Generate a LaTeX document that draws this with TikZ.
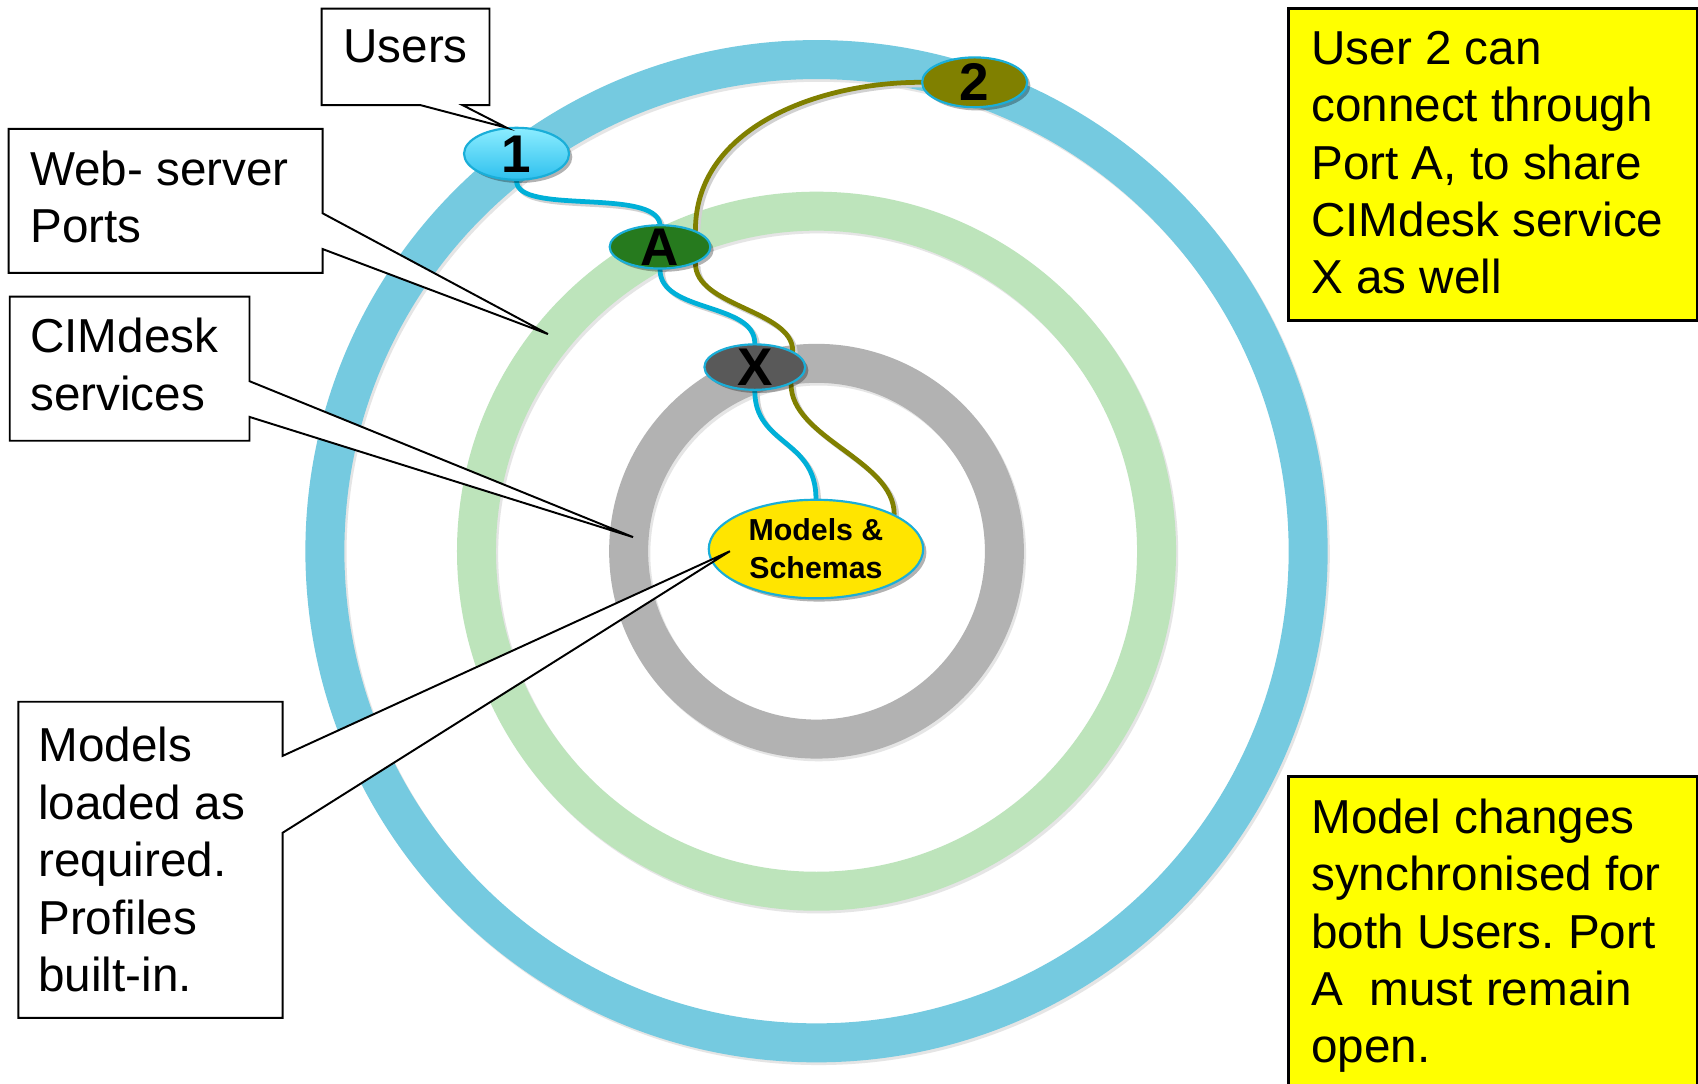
\documentclass[tikz,border=0pt]{standalone}
\usepackage{fontspec}
\setmainfont{Liberation Sans}
\usetikzlibrary{shapes.geometric,shadows,calc}
\pgfdeclarelayer{rings}
\pgfdeclarelayer{links}
\pgfsetlayers{rings,links,main}
\definecolor{ringblue}{HTML}{75CAE0}
\definecolor{ringgreen}{HTML}{BDE4BB}
\definecolor{ringgray}{HTML}{B2B2B2}
\definecolor{linkblue}{HTML}{00B0D8}
\definecolor{linkolive}{HTML}{808000}
\definecolor{portgreen}{HTML}{267A1E}
\definecolor{svcgray}{HTML}{595959}
\definecolor{modelyellow}{HTML}{FFE500}
\definecolor{noteyellow}{HTML}{FFFF00}
\definecolor{userlight}{HTML}{8CEDFF}
\definecolor{userdark}{HTML}{2EC0EE}
\definecolor{nodeborder}{HTML}{1AAED8}
\frenchspacing
\begin{document}
\begin{tikzpicture}[x=0.5pt,y=-0.5pt,
  ring/.style={line width=18pt},
  ringshadow/.style={line width=18pt, draw=black!10},
  hub/.style={ellipse, draw=nodeborder, line width=1pt, inner sep=0pt,
    drop shadow={shadow xshift=1.5pt, shadow yshift=-1.5pt, opacity=0.3, fill=black}},
  hubtext/.style={inner sep=0pt, font=\fontsize{24.5}{28}\selectfont\bfseries},
  link/.style={line width=2.2pt, line cap=round},
  linkshadow/.style={line width=2.2pt, draw=black!18, transform canvas={shift={(1.2pt,-1.2pt)}}},
  callout/.style={draw=black, fill=white, line width=0.9pt, line join=miter},
  note/.style={draw=black, fill=noteyellow, line width=1.25pt},
  calltext/.style={anchor=north west, inner sep=0pt, align=left, font=\fontsize{22}{26.5}\selectfont},
]
\useasboundingbox (0,0) rectangle (1568,1001);

\begin{pgfonlayer}{rings}
  \fill[white] (0,0) rectangle (1568,1001);
  \draw[ringshadow] (756,511.5) circle [radius=227pt];
  \draw[ring, ringblue] (754,509) circle [radius=227pt];
  \draw[ringshadow] (756,511.5) circle [radius=157pt];
  \draw[ring, ringgreen] (754,509) circle [radius=157pt];
  \draw[ringshadow] (756,511.5) circle [radius=86.75pt];
  \draw[ring, ringgray] (754,509) circle [radius=86.75pt];
\end{pgfonlayer}

% hub nodes
\node[hub, minimum width=48.5pt, minimum height=24pt, top color=userlight, bottom color=userdark] (u1) at (477,142) {};
\node[hubtext] (u1t) at (u1.center) {1};
\node[hub, fill=portgreen, minimum width=46.5pt, minimum height=20pt] (pa) at (609.5,228) {};
\node[hubtext] (pat) at (pa.center) {A};
\node[hub, fill=svcgray, minimum width=46.5pt, minimum height=21pt] (sx) at (697,339) {};
\node[hubtext] (sxt) at (sx.center) {X};
\node[hub, fill=linkolive, minimum width=48.5pt, minimum height=23pt] (u2) at (900,76) {};
\node[hubtext] (u2t) at (u2.center) {2};
\node[hub, fill=modelyellow, minimum width=99pt, minimum height=45.5pt, align=center,
  font=\fontsize{14}{17.5}\selectfont\bfseries] (ms) at (753.5,507) {Models \&\\Schemas};

% connectors
\begin{pgfonlayer}{links}
  \draw[linkshadow] (u1.south) .. controls +(0,32) and +(-5,-34) .. (pa.north);
  \draw[link, linkblue] (u1.south) .. controls +(0,32) and +(-5,-34) .. (pa.north);
  \draw[linkshadow] (pa.south) .. controls +(0,40) and +(0,-38) .. (sx.north);
  \draw[link, linkblue] (pa.south) .. controls +(0,40) and +(0,-38) .. (sx.north);
  \draw[linkshadow] (sx.south) .. controls +(0,50) and +(0,-55) .. (ms.north);
  \draw[link, linkblue] (sx.south) .. controls +(0,50) and +(0,-55) .. (ms.north);
  \draw[linkshadow] (u2.west) .. controls +(-95,0) and +(0,-95) .. (pa.25);
  \draw[link, linkolive] (u2.west) .. controls +(-95,0) and +(0,-95) .. (pa.25);
  \draw[linkshadow] (pa.-25) .. controls +(0,40) and +(0,-38) .. (sx.23);
  \draw[link, linkolive] (pa.-25) .. controls +(0,40) and +(0,-38) .. (sx.23);
  \draw[linkshadow] (sx.-25) .. controls +(0,50) and +(0,-50) .. (ms.24);
  \draw[link, linkolive] (sx.-25) .. controls +(0,50) and +(0,-50) .. (ms.24);
\end{pgfonlayer}

% callouts
\draw[callout] (297,8) -- (452,8) -- (452,97) -- (427,97) -- (468,118) -- (388,97) -- (297,97) -- cycle;
\node[calltext] (tusers) at (316.7,27.3) {Users};

\draw[callout] (8,119) -- (298,119) -- (298,197) -- (506,308.5) -- (298,230) -- (298,252) -- (8,252) -- cycle;
\node[calltext, font=\fontsize{22}{26.3}\selectfont] (tweb) at (27.6,139.3) {Web- server\\Ports};

\draw[callout] (9,274) -- (230.4,274) -- (230.4,352) -- (584.6,496) -- (230.4,385) -- (230.4,407) -- (9,407) -- cycle;
\node[calltext, font=\fontsize{22}{26.8}\selectfont] (tcim) at (27.6,293.3) {CIMdesk\\services};

\draw[callout] (17,648) -- (261,648) -- (261,698) -- (674,509) -- (261,769) -- (261,940) -- (17,940) -- cycle;
\node[calltext] (tmodels) at (35,671.3) {Models\\loaded as\\required.\\Profiles\\built-in.};

% notes
\draw[note] (1190,7.6) rectangle (1567,296);
\node[calltext] (tnote1) at (1210.5,28.3) {User 2 can\\connect through\\Port A, to share\\CIMdesk service\\X as well};
\draw[note] (1190,717) rectangle (1567,1030);
\node[calltext] (tnote2) at (1210.5,737.3) {Model changes\\synchronised for\\both Users. Port\\A\ \ must remain\\open.};
\end{tikzpicture}
\end{document}
